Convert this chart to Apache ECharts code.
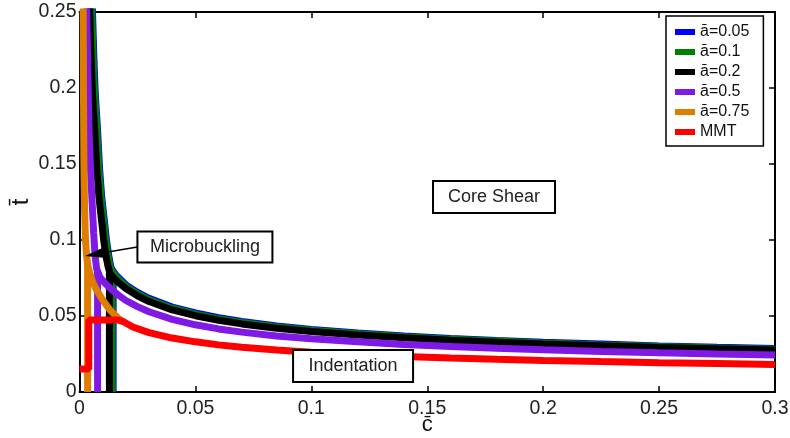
<!DOCTYPE html>
<html>
<head>
<meta charset="utf-8">
<script src="https://cdn.jsdelivr.net/npm/echarts@6/dist/echarts.min.js"></script>
<style>
  html, body { margin: 0; padding: 0; background: #fff; }
  #chart { width: 790px; height: 438px; }
</style>
</head>
<body>
<div id="chart"></div>
<script>
const FONT = '"Liberation Sans", Arial, Helvetica, sans-serif';

// legend names and colours
const names = ['ā=0.05', 'ā=0.1', 'ā=0.2', 'ā=0.5', 'ā=0.75', 'MMT'];
const colors = ['#0000ff', '#008000', '#000000', '#7f1ae5', '#de7d00', '#ff0000'];

// axis ticks
const xTicks = [0, 0.05, 0.1, 0.15, 0.2, 0.25, 0.3];
const yTicks = [0, 0.05, 0.1, 0.15, 0.2, 0.25];

// [c, t] points
const blueCurve = [[0.0054,0.262],[0.0056,0.25],[0.0062,0.22],[0.0068,0.196],[0.0078,0.172],[0.0087,0.146],[0.0096,0.128],[0.0107,0.113],[0.0117,0.099],[0.0128,0.088],[0.0136,0.082],[0.0145,0.0795],[0.0158,0.0768],[0.018,0.0735],[0.02,0.0705],[0.025,0.0655],[0.03,0.0616],[0.04,0.0559],[0.05,0.052],[0.06,0.0489],[0.07,0.0464],[0.085,0.0435],[0.1,0.0412],[0.12,0.0388],[0.14,0.0369],[0.16,0.0352],[0.18,0.0339],[0.2,0.0327],[0.225,0.0315],[0.25,0.0303],[0.275,0.0294],[0.3,0.0286]];
const blueVert = [[0.0145,0],[0.0145,0.0795]];

const greenCurve = [[0.0051,0.262],[0.0053,0.25],[0.0059,0.22],[0.0065,0.196],[0.0075,0.172],[0.0084,0.146],[0.0093,0.128],[0.0104,0.113],[0.0114,0.099],[0.0125,0.088],[0.0133,0.082],[0.0142,0.079],[0.0156,0.0762],[0.0178,0.0728],[0.02,0.0695],[0.025,0.0646],[0.03,0.0607],[0.04,0.0551],[0.05,0.0512],[0.06,0.0481],[0.07,0.0457],[0.085,0.0428],[0.1,0.0406],[0.12,0.0383],[0.14,0.0364],[0.16,0.0347],[0.18,0.0335],[0.2,0.0322],[0.225,0.031],[0.25,0.0299],[0.275,0.029],[0.3,0.0282]];
const greenVert = [[0.0141,0],[0.0141,0.079]];

const blackCurve = [[0.0042,0.262],[0.0044,0.25],[0.005,0.22],[0.0056,0.196],[0.0066,0.172],[0.0075,0.146],[0.0084,0.128],[0.0095,0.113],[0.0105,0.099],[0.0116,0.088],[0.0124,0.082],[0.0133,0.0778],[0.015,0.0745],[0.0175,0.0712],[0.02,0.0681],[0.025,0.0633],[0.03,0.0595],[0.04,0.054],[0.05,0.0502],[0.06,0.0472],[0.07,0.0448],[0.085,0.042],[0.1,0.0398],[0.12,0.0375],[0.14,0.0357],[0.16,0.034],[0.18,0.0328],[0.2,0.0316],[0.225,0.0304],[0.25,0.0293],[0.275,0.0284],[0.3,0.0276]];
const blackVert = [[0.0129,0],[0.0129,0.08]];

const purpleCurve = [[0.003,0.262],[0.0031,0.25],[0.0036,0.21],[0.0041,0.172],[0.0048,0.145],[0.0054,0.126],[0.0061,0.105],[0.0067,0.09],[0.0074,0.081],[0.0088,0.0755],[0.011,0.0715],[0.014,0.0672],[0.017,0.0635],[0.02,0.0602],[0.025,0.0562],[0.03,0.0528],[0.04,0.0478],[0.05,0.0442],[0.06,0.0415],[0.07,0.0394],[0.085,0.0369],[0.1,0.035],[0.12,0.033],[0.14,0.0313],[0.16,0.0299],[0.18,0.0288],[0.2,0.0278],[0.225,0.0267],[0.25,0.0258],[0.275,0.025],[0.3,0.0243]];
const purpleVert = [[0.0078,0],[0.0078,0.079]];

const orangeCurve = [[0.0016,0.262],[0.0016,0.25],[0.0017,0.2],[0.0019,0.15],[0.0022,0.12],[0.0026,0.1],[0.0031,0.089],[0.0037,0.082],[0.0055,0.073],[0.0074,0.067],[0.01,0.0605],[0.0131,0.054],[0.0166,0.0487],[0.019,0.046]];
const orangeVert = [[0.0035,0],[0.0035,0.084]];

const redCurve = [[0,0.0151],[0.004,0.0151],[0.004,0.0474],[0.0166,0.0474],[0.019,0.0462],[0.023,0.0428],[0.03,0.0391],[0.04,0.0355],[0.05,0.033],[0.06,0.031],[0.07,0.0294],[0.085,0.0276],[0.1,0.0262],[0.12,0.0246],[0.14,0.0234],[0.16,0.0224],[0.18,0.0215],[0.2,0.0208],[0.225,0.02],[0.25,0.0193],[0.275,0.0187],[0.3,0.0181]];

// text boxes, centre in data coords
const notes = [
  { text: 'Core Shear', at: [0.1788, 0.1283], w: 122, h: 32 },
  { text: 'Microbuckling', at: [0.0541, 0.0954], w: 135, h: 31 },
  { text: 'Indentation', at: [0.118, 0.0171], w: 120, h: 32 }
];
const arrowTip = [0.0024, 0.0895];

const curves = [
  [blueCurve, blueVert], [greenCurve, greenVert], [blackCurve, blackVert],
  [purpleCurve, purpleVert], [orangeCurve, orangeVert], [redCurve]
];

const series = [];
curves.forEach((parts, i) => {
  parts.forEach(d => {
    series.push({
      name: names[i],
      type: 'line',
      data: d,
      showSymbol: false,
      symbol: 'none',
      animation: false,
      lineStyle: { color: colors[i], width: 7 },
      itemStyle: { color: colors[i] }
    });
  });
});

const axisCommon = {
  type: 'value',
  axisLine: { show: true, onZero: false, lineStyle: { color: '#000', width: 2 } },
  axisTick: { show: true, inside: true, length: 6, lineStyle: { color: '#000', width: 1.5 } },
  splitLine: { show: false }
};

const chart = echarts.init(document.getElementById('chart'), null, { renderer: 'canvas' });

chart.setOption({
  animation: false,
  backgroundColor: '#fff',
  grid: { left: 79.5, right: 15, top: 12, bottom: 46, containLabel: false, outerBoundsMode: 'none' },
  legend: {
    data: names,
    orient: 'vertical',
    left: 666,
    top: 16,
    icon: 'rect',
    itemWidth: 20,
    itemHeight: 6,
    itemGap: 4,
    padding: [8, 14, 6, 9],
    backgroundColor: '#fff',
    borderColor: '#000',
    borderWidth: 1.5,
    borderRadius: 0,
    textStyle: { fontFamily: FONT, fontSize: 16, color: '#111', lineHeight: 16 },
    z: 20
  },
  xAxis: [
    Object.assign({}, axisCommon, {
      position: 'bottom',
      min: xTicks[0], max: xTicks[xTicks.length - 1], interval: xTicks[1] - xTicks[0],
      name: 'c\u0304',
      nameLocation: 'middle',
      nameGap: 22,
      nameMoveOverlap: false,
      nameTextStyle: { fontFamily: FONT, fontSize: 22, color: '#111' },
      axisLabel: { fontFamily: FONT, fontSize: 19.5, color: '#222', margin: 7 }
    }),
    Object.assign({}, axisCommon, {
      position: 'top',
      min: xTicks[0], max: xTicks[xTicks.length - 1], interval: xTicks[1] - xTicks[0],
      axisLabel: { show: false }
    })
  ],
  yAxis: [
    Object.assign({}, axisCommon, {
      position: 'left',
      min: yTicks[0], max: yTicks[yTicks.length - 1], interval: yTicks[1] - yTicks[0],
      name: 't\u0304',
      nameLocation: 'middle',
      nameGap: 46,
      nameMoveOverlap: false,
      nameTextStyle: { fontFamily: FONT, fontSize: 24, color: '#111' },
      axisLabel: { fontFamily: FONT, fontSize: 19.5, color: '#222', margin: 3 }
    }),
    Object.assign({}, axisCommon, {
      position: 'right',
      min: yTicks[0], max: yTicks[yTicks.length - 1], interval: yTicks[1] - yTicks[0],
      axisLabel: { show: false }
    })
  ],
  series: series
});

// annotation boxes and arrow
const toPx = p => chart.convertToPixel({ xAxisIndex: 0, yAxisIndex: 0 }, p);
const graphic = [];
const boxPx = {};
notes.forEach(n => {
  const [px, py] = toPx(n.at);
  boxPx[n.text] = [px, py, n.w, n.h];
  graphic.push({
    type: 'rect', z: 100,
    shape: { x: px - n.w / 2, y: py - n.h / 2, width: n.w, height: n.h },
    style: { fill: '#fff', stroke: '#000', lineWidth: 2 }
  });
  graphic.push({
    type: 'text', z: 101, x: px, y: py,
    style: { text: n.text, font: '18px ' + FONT, fill: '#222', align: 'center', verticalAlign: 'middle' }
  });
});

const mb = boxPx['Microbuckling'];
const tail = [mb[0] - mb[2] / 2, mb[1]];
const tip = toPx(arrowTip);
const dx = tail[0] - tip[0], dy = tail[1] - tip[1];
const len = Math.sqrt(dx * dx + dy * dy);
const ux = dx / len, uy = dy / len;
const headL = 20, headW = 5.5;
const bx = tip[0] + ux * headL, by = tip[1] + uy * headL;
graphic.push({
  type: 'line', z: 99,
  shape: { x1: tail[0], y1: tail[1], x2: bx, y2: by },
  style: { stroke: '#000', lineWidth: 1.5 }
});
graphic.push({
  type: 'polygon', z: 99,
  shape: { points: [tip, [bx - uy * headW, by + ux * headW], [bx + uy * headW, by - ux * headW]] },
  style: { fill: '#000' }
});

chart.setOption({ graphic: graphic });
</script>
</body>
</html>
